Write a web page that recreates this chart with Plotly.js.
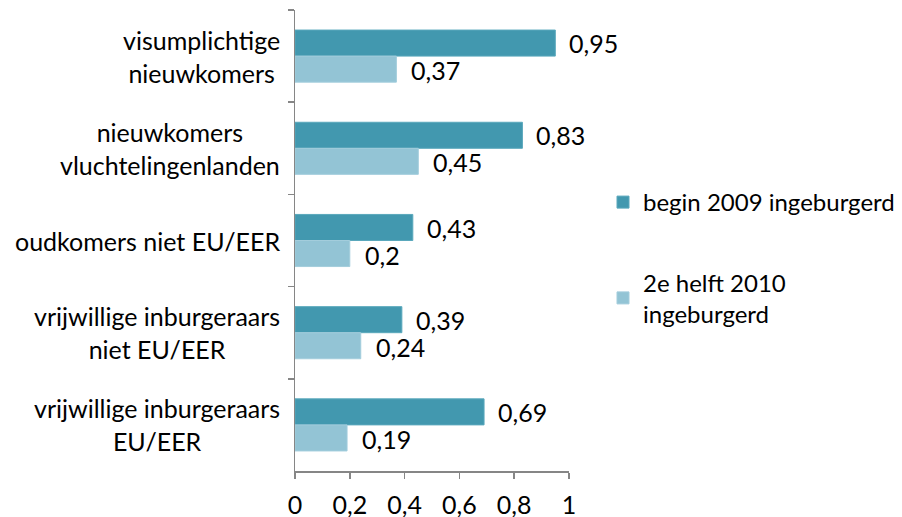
<!DOCTYPE html>
<html>
<head>
<meta charset="utf-8">
<script src="https://cdn.plot.ly/plotly-3.0.1.min.js"></script>
<style>html,body{margin:0;padding:0;background:#fff;}#chart{width:902px;height:517px;}</style>
</head>
<body>
<div id="chart"></div>
<script>
const categories = ["visumplichtige<br>nieuwkomers", "nieuwkomers<br>vluchtelingenlanden", "oudkomers niet EU/EER", "vrijwillige inburgeraars<br>niet EU/EER", "vrijwillige inburgeraars<br>EU/EER"];
const seriesNames = ["begin 2009 ingeburgerd", "2e helft 2010<br>ingeburgerd"];
const begin2009 = [0.95, 0.83, 0.43, 0.39, 0.69];
const helft2010 = [0.37, 0.45, 0.2, 0.24, 0.19];
const xTicks = [0, 0.2, 0.4, 0.6, 0.8, 1];

const FONT = "Lato, 'Open Sans', sans-serif";
const FS = 25;
const dark = "#4298AF";
const light = "#93C4D5";
const fmt = v => String(v).replace('.', ',');

const traces = [
  {type:'bar', orientation:'h', name:seriesNames[0], y:categories, x:begin2009,
   marker:{color:dark, line:{color:'#5aa8bc', width:1}}, legendgroup:'a', hoverinfo:'none'},
  {type:'bar', orientation:'h', name:seriesNames[1], y:categories, x:helft2010,
   marker:{color:light, line:{color:'#a3cddc', width:1}}, legendgroup:'b', hoverinfo:'none'}
];

const annotations = [];
categories.forEach((c, i) => {
  annotations.push({xref:'paper', yref:'y', x:0, y:c, xanchor:'right', yanchor:'middle', xshift:-13,
    text:c, align:'center', showarrow:false, font:{family:FONT, size:FS, color:'#000'}});
  annotations.push({xref:'x', yref:'y', x:begin2009[i], y:c, xanchor:'left', yanchor:'middle', xshift:12, yshift:13,
    text:fmt(begin2009[i]), showarrow:false, font:{family:FONT, size:FS, color:'#000'}});
  annotations.push({xref:'x', yref:'y', x:helft2010[i], y:c, xanchor:'left', yanchor:'middle', xshift:13, yshift:-14,
    text:fmt(helft2010[i]), showarrow:false, font:{family:FONT, size:FS, color:'#000'}});
});

const layout = {
  width:902, height:517,
  margin:{l:295, r:333, t:10, b:46, pad:0},
  paper_bgcolor:'#fff', plot_bgcolor:'#fff',
  separators:', ',
  font:{family:FONT, size:FS, color:'#000'},
  barmode:'group', bargap:0.435, bargroupgap:0,
  showlegend:true,
  legend:{xref:'container', yref:'container', x:603/902, xanchor:'left', y:1-180/517, yanchor:'top',
    traceorder:'grouped', tracegroupgap:46,
    font:{family:FONT, size:24, color:'#000'}, bgcolor:'rgba(0,0,0,0)', borderwidth:0},
  xaxis:{range:[0,1], tickvals:xTicks, ticks:'outside', ticklen:6, tickcolor:'#868686', tickwidth:1.5,
    showline:true, linecolor:'#868686', linewidth:1.5, showgrid:false, zeroline:false, automargin:false,
    ticklabelstandoff:5, tickfont:{family:FONT, size:FS, color:'#000'}},
  yaxis:{type:'category', autorange:'reversed', showticklabels:false, ticks:'outside', tickson:'boundaries',
    ticklen:6, tickcolor:'#868686', tickwidth:1.5, showline:true, linecolor:'#868686', linewidth:1.5,
    showgrid:false, zeroline:false, automargin:false},
  annotations:annotations
};

Plotly.newPlot('chart', traces, layout, {staticPlot:true, displayModeBar:false});
</script>
</body>
</html>
